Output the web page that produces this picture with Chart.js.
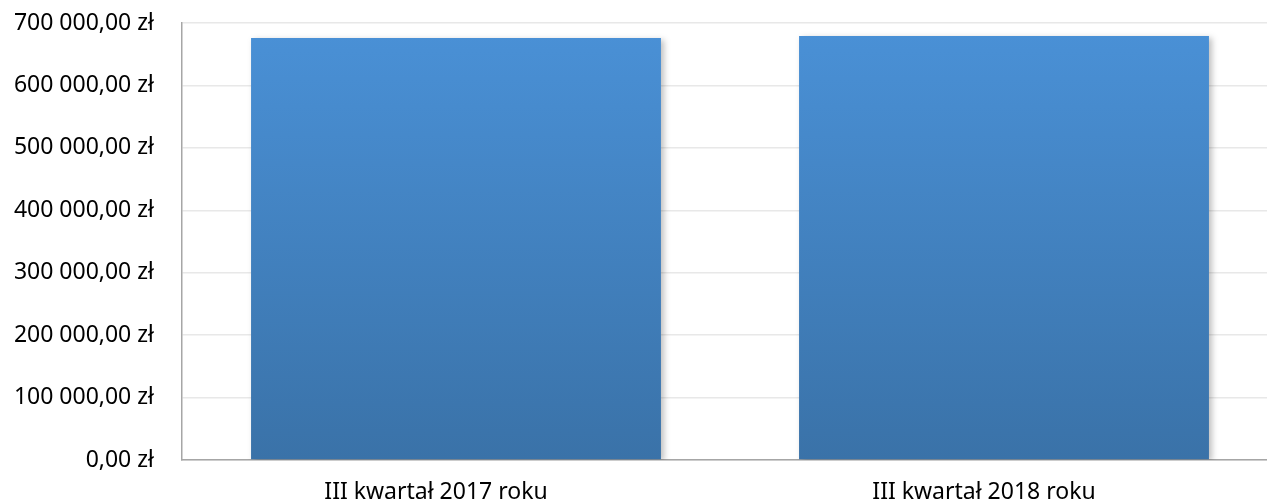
<!DOCTYPE html>
<html>
<head>
<meta charset="utf-8">
<script src="https://cdn.jsdelivr.net/npm/chart.js@4.4.0/dist/chart.umd.min.js"></script>
<style>
  html, body { margin: 0; padding: 0; background: #fff; overflow: hidden; }
  #wrap { width: 1278px; height: 503px; }
</style>
</head>
<body>
<div id="wrap"><canvas id="chart"></canvas></div>
<script>
// data
var categories = ['III kwartał 2017 roku', 'III kwartał 2018 roku'];
var values = [676000, 679000];
var yTicks = [0, 100000, 200000, 300000, 400000, 500000, 600000, 700000];

function formatZl(v) {
    var parts = v.toFixed(2).split('.');
    var intPart = parts[0].replace(/\B(?=(\d{3})+(?!\d))/g, ' ');
    return intPart + ',' + parts[1] + ' zł';
}

function barGradient(context) {
    var chart = context.chart;
    var area = chart.chartArea;
    if (!area) return '#4580c4';
    var g = chart.ctx.createLinearGradient(0, area.top, 0, area.bottom);
    g.addColorStop(0, '#4a91d7');
    g.addColorStop(1, '#3a72a8');
    return g;
}

// soft shadow on the right side of the bars
var shadowPlugin = {
    id: 'barShadow',
    beforeDatasetDraw: function(chart) {
        var ctx = chart.ctx;
        ctx.save();
        ctx.shadowColor = 'rgba(0,0,0,0.25)';
        ctx.shadowBlur = 6;
        ctx.shadowOffsetX = 3;
        ctx.shadowOffsetY = 2;
    },
    afterDatasetDraw: function(chart) {
        chart.ctx.restore();
    }
};

var ctx = document.getElementById('chart').getContext('2d');
var config = {
    type: 'bar',
    data: {
        labels: categories,
        datasets: [{
            data: values,
            backgroundColor: barGradient,
            borderWidth: 0,
            barPercentage: 0.748,
            categoryPercentage: 1.0
        }]
    },
    options: {
        responsive: true,
        maintainAspectRatio: false,
        animation: false,
        plugins: {
            legend: { display: false },
            tooltip: { enabled: false }
        },
        scales: {
            x: {
                grid: { display: false, drawTicks: false },
                border: { color: '#a6a6a6', width: 1.5 },
                ticks: {
                    color: '#000',
                    font: { family: 'Noto Sans', size: 23 },
                    padding: 19,
                    labelOffset: -20
                },
                afterFit: function(scale) { scale.height = 43; }
            },
            y: {
                min: 0,
                max: 700000,
                afterBuildTicks: function(scale) {
                    scale.ticks = yTicks.map(function(v) { return { value: v }; });
                },
                grid: { color: '#e8e8e8', lineWidth: 1.5, drawTicks: false },
                border: { color: '#a6a6a6', width: 1.5 },
                ticks: {
                    color: '#000',
                    font: { family: 'Noto Sans', size: 23 },
                    padding: 28,
                    callback: function(v) { return formatZl(v); }
                },
                afterFit: function(scale) {
                    scale.width = 182;
                    scale.paddingTop = 23;
                    scale.paddingBottom = 0;
                }
            }
        }
    },
    plugins: [shadowPlugin]
};

var chart = new Chart(ctx, config);
</script>
</body>
</html>
